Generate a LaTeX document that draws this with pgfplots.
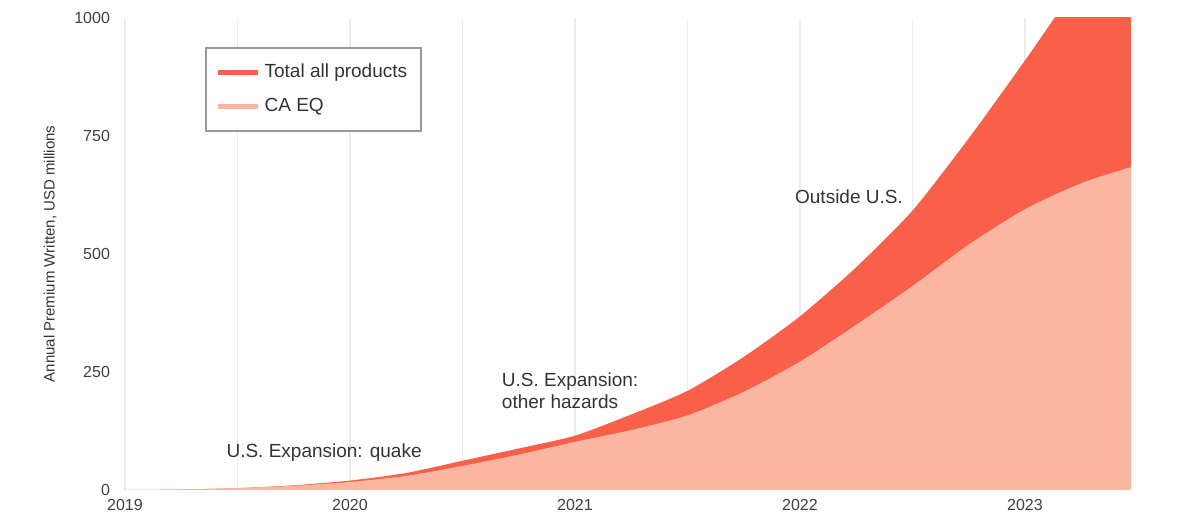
\documentclass[border=0pt]{standalone}
\usepackage{fontspec}
\setmainfont{Liberation Sans}
\usepackage{pgfplots}
\pgfplotsset{compat=1.18}
\usepackage{pgfplotstable}
\definecolor{totred}{HTML}{F8604A}
\definecolor{caeq}{HTML}{FBB6A2}
\definecolor{gridc}{HTML}{ECECEC}
\pgfplotstableread{
x ca tot
2019.00 0 0
2019.25 1 1
2019.50 4 4
2019.75 9 10
2020.00 17 20
2020.25 30 36
2020.50 51 62
2020.75 75 88
2021.00 102 115
2021.25 127 160
2021.50 158 210
2021.75 208 282
2022.00 272 368
2022.25 350 472
2022.50 432 592
2022.75 520 745
2023.00 595 910
2023.25 650 1080
2023.47 684 1200
}\datatab
\begin{document}
\begin{tikzpicture}
\begin{axis}[
  name=ax,
  scale only axis,
  width=506.25pt, height=236pt,
  xmin=2019, xmax=2023.5,
  ymin=0, ymax=1000,
  axis line style={draw=none},
  xtick={2019,2020,2021,2022,2023},
  minor xtick={2019.5,2020.5,2021.5,2022.5},
  ytick={0,250,500,750,1000},
  xmajorgrids, xminorgrids,
  major grid style={gridc, line width=0.6pt},
  minor grid style={gridc, line width=0.6pt},
  tick style={draw=none},
  /pgf/number format/assume math mode=true,
  /pgf/number format/1000 sep={},
  ticklabel style={font=\fontsize{8}{9.5}\selectfont, text=black!75},
  xticklabel style={yshift=-1pt},
  yticklabel style={xshift=-4pt},
  ylabel={Annual Premium Written, USD millions},
  ylabel style={at={(axis description cs:-0.074,0.5)}, anchor=center, font=\fontsize{7.5}{9}\selectfont, text=black!80},
  legend style={at={(axis description cs:0.079,0.9386)}, anchor=north west,
    draw=black!40, line width=0.8pt, font=\fontsize{9.5}{11}\selectfont, text=black!80,
    inner xsep=5pt, inner ysep=6pt, row sep=5pt},
  legend cell align=left,
  legend image code/.code={\draw[#1, line width=2.5pt] (0cm,0cm) -- (0.7cm,0cm);},
  clip=true,
]
\addplot[fill=totred, draw=none, forget plot, smooth, tension=0.4] table[x=x, y=tot] {\datatab} \closedcycle;
\addplot[fill=caeq, draw=none, forget plot, smooth, tension=0.4] table[x=x, y=ca] {\datatab} \closedcycle;
\addlegendimage{totred}
\addlegendentry{Total all products}
\addlegendimage{caeq}
\addlegendentry{CA EQ}
\node[anchor=west, font=\fontsize{9.5}{11}\selectfont, text=black!80] at (axis cs:2019.42,80) {U.S. Expansion: quake};
\node[anchor=west, align=left, font=\fontsize{9.5}{11}\selectfont, text=black!80] at (axis cs:2020.644,210) {U.S. Expansion:\\other hazards};
\node[anchor=west, font=\fontsize{9.5}{11}\selectfont, text=black!80] at (axis cs:2021.947,621) {Outside U.S.};
\end{axis}
\pgfresetboundingbox
\path[use as bounding box] (ax.south west) ++(-62.5pt,-12pt) rectangle ++(600.5pt,257pt);
\end{tikzpicture}
\end{document}
